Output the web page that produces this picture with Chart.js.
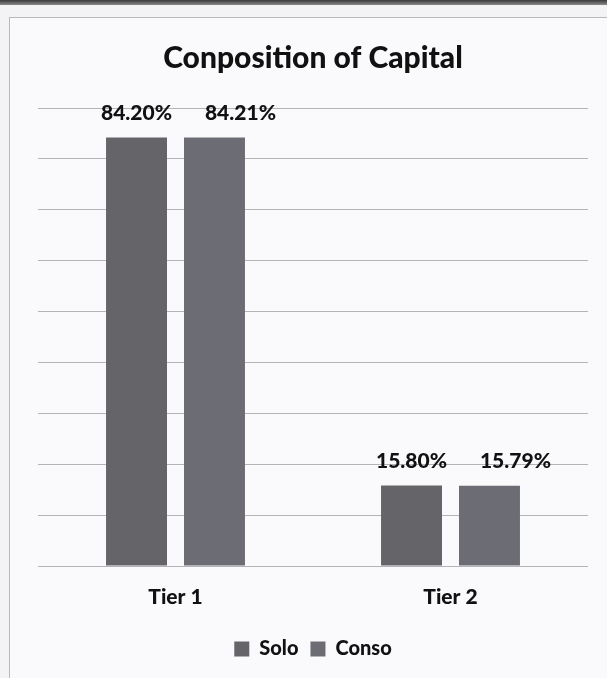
<!DOCTYPE html>
<html>
<head>
<meta charset="utf-8">
<script src="https://cdn.jsdelivr.net/npm/chart.js@4.4.0/dist/chart.umd.min.js"></script>
<style>
  html, body { margin: 0; padding: 0; width: 607px; height: 678px; overflow: hidden; background: #f3f3f5; }
  #band { position: absolute; left: 0; top: 0; width: 607px; height: 5px; background: linear-gradient(#3a3a3a, #8a8a8a); }
  #box { position: absolute; left: 9px; top: 17px; width: 600px; height: 665px; background: #fafafc; border-left: 1px solid #b8b8bc; border-top: 1px solid #b8b8bc; }
  #wrap { position: absolute; left: 10px; top: 18px; width: 597px; height: 660px; }
</style>
</head>
<body>
<div id="band"></div>
<div id="box"></div>
<div id="wrap"><canvas id="c" width="597" height="660"></canvas></div>
<script>
const categories = ["Tier 1", "Tier 2"];
const seriesNames = ["Solo", "Conso"];
const soloValues = [84.20, 15.80];
const consoValues = [84.21, 15.79];
const soloLabels = ["84.20%", "15.80%"];
const consoLabels = ["84.21%", "15.79%"];
const yTicks = { min: 0, max: 90, step: 10 };

const FONT = "Lato, 'Open Sans', sans-serif";
const W = "900";

const dataLabelPlugin = {
  id: 'dataLabels',
  afterDatasetsDraw(chart) {
    const ctx = chart.ctx;
    const labelSets = [soloLabels, consoLabels];
    const xShift = [0, 26];
    ctx.save();
    ctx.font = W + " 21px " + FONT;
    ctx.fillStyle = "#111";
    ctx.textAlign = "center";
    ctx.textBaseline = "middle";
    chart.data.datasets.forEach((ds, di) => {
      const meta = chart.getDatasetMeta(di);
      meta.data.forEach((bar, i) => {
        ctx.fillText(labelSets[di][i], bar.x + xShift[di], bar.y - 24);
      });
    });
    ctx.restore();
  }
};

new Chart(document.getElementById('c'), {
  type: 'bar',
  data: {
    labels: categories,
    datasets: [
      { label: seriesNames[0], data: soloValues, backgroundColor: "#646469", borderWidth: 0 },
      { label: seriesNames[1], data: consoValues, backgroundColor: "#6c6c75", borderWidth: 0 }
    ]
  },
  options: {
    responsive: false,
    animation: false,
    devicePixelRatio: 1,
    layout: { padding: { left: 28, right: 19, top: 0, bottom: 9 } },
    datasets: { bar: { categoryPercentage: 0.567, barPercentage: 0.782 } },
    plugins: {
      title: {
        display: true,
        text: "Conposition of Capital",
        font: { family: FONT, size: 30, weight: W },
        color: "#111",
        padding: { top: 22, bottom: 32 }
      },
      legend: {
        position: 'bottom',
        labels: {
          font: { family: FONT, size: 20, weight: W },
          color: "#111",
          boxWidth: 15,
          boxHeight: 15,
          padding: 12
        }
      },
      tooltip: { enabled: false }
    },
    scales: {
      x: {
        grid: { display: false, drawTicks: false },
        border: { display: false },
        ticks: { font: { family: FONT, size: 21, weight: W }, color: "#111", padding: 19 },
        afterFit(scale) { scale.height = 61; }
      },
      y: {
        min: yTicks.min, max: yTicks.max,
        ticks: { display: false, stepSize: yTicks.step },
        grid: { color: "#b4b4b8", drawTicks: false },
        border: { display: false }
      }
    }
  },
  plugins: [dataLabelPlugin]
});
</script>
</body>
</html>
